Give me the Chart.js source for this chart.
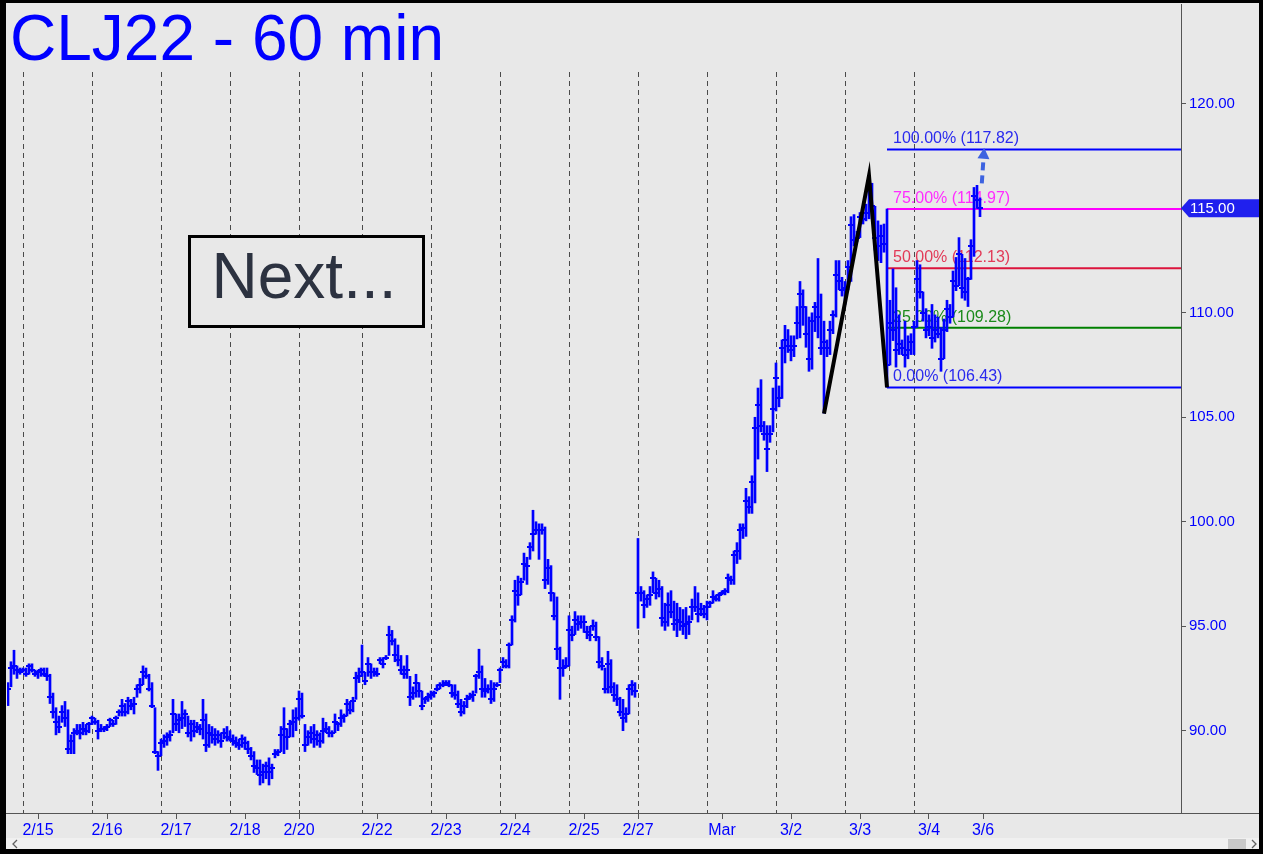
<!DOCTYPE html>
<html><head><meta charset="utf-8">
<script src="https://cdn.jsdelivr.net/npm/chart.js@4.4.1/dist/chart.umd.min.js"></script>
<style>html,body{margin:0;padding:0;background:#e8e8e8;overflow:hidden}#wrap{position:relative;width:1263px;height:854px}</style>
</head><body><div id="wrap"><canvas id="c"></canvas></div>
<script>
// ---- data (hourly bars) ----
const lows = [
91.2,92.1,92.7,92.5,92.7,92.8,92.6,92.7,92.8,92.6,
92.5,92.6,92.6,92.4,91.3,90.6,89.8,89.9,90.4,90.2,
88.9,88.9,88.9,89.8,89.6,89.8,89.8,89.9,90.3,90.3,
89.6,89.95,89.95,90.0,90.2,90.2,90.3,90.7,90.7,90.7,
90.8,91.0,90.8,91.6,91.8,92.2,92.5,91.9,91.1,88.9,
88.1,88.8,89.2,89.3,89.5,89.9,90.0,89.9,90.1,90.2,
89.7,89.5,89.7,89.9,89.8,89.6,89.0,89.2,89.4,89.3,
89.4,89.2,89.6,89.5,89.5,89.3,89.2,89.1,89.2,89.1,
88.9,88.6,88.0,87.9,87.4,87.5,87.7,87.4,87.7,88.7,
88.8,89.0,88.9,89.1,89.7,89.7,90.0,90.5,90.6,89.0,
89.3,89.4,89.2,89.3,89.2,89.4,89.9,89.7,89.7,89.9,
90.0,90.2,90.4,90.7,90.8,90.9,91.5,92.3,92.6,92.2,
92.6,92.5,92.6,92.6,93.2,93.0,93.4,93.6,94.1,93.3,
93.1,92.7,92.5,92.5,91.2,91.5,91.6,91.6,91.0,91.3,
91.4,91.5,91.6,91.9,92.0,92.1,92.2,92.1,91.6,91.5,
91.1,90.7,90.8,91.1,91.5,91.4,91.8,92.5,91.6,91.6,
91.8,91.3,91.4,92.1,92.3,93.0,93.0,93.0,94.1,95.2,
96.0,96.5,97.2,97.0,98.2,98.6,99.4,98.2,99.4,96.8,
97.0,96.2,95.3,93.4,91.5,92.6,93.0,93.1,94.3,94.6,
94.8,94.9,94.7,94.4,94.3,94.8,94.3,93.0,92.9,91.8,
91.8,91.8,91.4,91.2,90.7,90.0,90.4,90.8,91.7,91.6,
94.9,96.2,95.4,95.9,96.0,96.6,96.3,96.4,95.0,94.8,
95.0,95.4,94.8,94.5,94.8,94.6,94.4,94.6,95.3,95.7,
95.2,95.5,95.4,95.3,95.9,96.1,96.2,96.2,96.5,96.5,
96.6,97.0,97.0,98.0,98.2,99.2,99.3,100.4,100.4,100.9,
103.0,104.3,103.9,102.4,103.8,104.3,105.3,105.5,105.9,107.6,
108.1,107.7,107.9,108.75,108.8,109.4,108.35,107.2,107.3,109.1,
108.8,108.0,105.2,107.9,108.0,109.0,109.8,111.1,110.8,110.4,
111.1,111.5,113.2,113.4,113.6,114.25,114.4,114.5,115.0,113.0,
112.5,112.4,112.9,106.43,107.5,108.67,107.4,108.0,108.0,107.4,
107.8,108.0,108.0,109.3,110.7,109.6,108.8,108.9,108.3,108.6,
108.8,107.2,107.8,109.1,109.5,109.8,111.06,111.3,110.7,110.6,
110.3,111.6,112.7,115.0,114.6];
const highs = [
92.3,93.3,93.85,93.1,93.0,93.0,93.0,93.2,93.2,92.9,
92.9,93.0,93.0,93.0,92.7,91.8,91.1,90.7,91.2,91.4,
91.0,89.8,90.1,90.3,90.3,90.4,90.3,90.4,90.7,90.6,
90.5,90.3,90.2,90.3,90.6,90.5,90.7,91.0,91.5,91.3,
91.6,91.5,91.6,92.2,92.5,93.1,93.0,92.7,92.3,91.1,
89.0,89.6,89.8,89.9,90.0,91.5,90.8,90.8,91.4,91.0,
90.7,90.5,90.5,90.4,90.3,91.5,90.8,90.3,90.2,90.1,
90.0,89.9,90.1,90.2,90.0,89.8,89.7,89.6,89.8,89.7,
89.5,89.2,89.0,88.6,88.6,88.4,88.5,88.7,88.4,89.1,
89.1,90.2,91.1,90.1,90.5,91.0,91.1,91.9,91.8,90.3,
90.0,90.2,90.3,90.0,89.9,90.6,90.4,90.2,90.0,90.8,
90.4,91.0,90.8,91.5,91.4,91.6,92.8,93.0,94.1,92.8,
93.5,93.2,93.0,93.0,93.5,93.5,93.6,95.0,94.8,94.4,
94.1,93.6,93.1,93.6,92.6,92.1,92.7,92.3,91.9,91.6,
91.8,91.9,91.9,92.2,92.3,92.4,92.4,92.4,92.2,92.2,
91.9,91.5,91.4,91.7,91.8,91.9,92.7,93.9,93.1,92.5,
92.2,92.4,92.3,92.3,93.0,93.5,93.4,94.2,95.5,97.2,
97.4,97.3,98.5,98.3,99.0,100.55,100.0,99.9,99.9,99.75,
98.2,97.9,96.6,96.4,94.0,93.4,93.5,95.5,95.0,95.7,
95.5,95.5,95.5,95.0,95.0,95.3,95.2,94.5,93.5,93.0,
93.8,93.4,92.3,92.2,91.6,91.5,91.1,92.2,92.4,92.3,
99.2,96.9,96.7,96.5,96.9,97.6,97.3,97.2,96.9,96.1,
96.6,96.7,96.2,96.1,95.9,95.8,95.9,95.5,96.3,96.9,
96.6,96.1,96.0,96.2,96.2,96.7,96.5,96.6,96.7,96.8,
97.5,97.4,98.6,99.0,99.9,99.9,101.6,101.2,102.2,105.0,
106.4,106.8,104.8,104.6,104.6,106.4,107.6,106.5,108.7,109.4,
109.2,108.9,108.9,110.3,111.5,111.1,110.3,109.8,110.0,110.5,
112.6,110.9,109.6,108.7,109.6,110.1,112.5,112.5,111.7,111.5,
112.5,114.6,114.7,113.9,114.8,115.0,115.2,116.56,116.2,115.1,
114.4,114.2,114.25,114.97,110.6,112.1,111.2,109.9,108.7,109.6,
108.9,109.0,109.6,112.5,112.3,111.0,110.2,109.9,110.4,109.9,
109.8,109.3,109.7,110.6,110.4,112.0,112.65,113.6,112.8,112.6,
111.7,113.5,116.0,116.1,115.5];
const closes = [
92.0,93.0,93.1,92.9,92.8,92.9,92.7,93.1,92.9,92.7,
92.8,92.9,92.7,92.6,91.6,90.9,90.4,90.2,90.9,90.6,
89.1,89.5,89.9,90.0,89.9,90.1,90.0,90.3,90.6,90.4,
90.0,90.1,90.1,90.2,90.5,90.3,90.6,90.9,91.2,90.9,
91.4,91.2,91.3,92.0,92.2,92.8,92.6,92.0,91.2,89.0,
88.8,89.4,89.5,89.7,89.8,90.8,90.3,90.5,90.6,90.8,
89.9,90.3,90.0,90.2,90.1,90.5,89.3,89.9,89.8,89.6,
89.8,89.5,89.9,89.7,89.6,89.5,89.4,89.3,89.6,89.4,
89.1,88.8,88.3,88.2,87.9,88.0,88.3,88.0,88.2,88.9,
89.0,89.8,90.1,89.7,90.3,90.4,90.6,91.5,90.7,89.3,
89.7,89.9,89.6,89.8,89.5,90.0,90.1,89.9,89.9,90.4,
90.3,90.6,90.7,91.3,91.0,91.4,92.5,92.6,92.8,92.4,
93.2,92.8,92.8,92.7,93.4,93.2,93.5,94.6,94.3,93.6,
93.4,92.9,92.7,92.9,91.6,91.8,92.3,91.9,91.2,91.5,
91.6,91.7,91.8,92.0,92.2,92.2,92.3,92.2,91.8,91.7,
91.3,90.9,91.2,91.5,91.6,91.7,92.6,92.8,92.0,91.9,
92.0,91.5,92.0,92.2,92.9,93.3,93.1,94.1,95.3,96.7,
96.5,97.1,98.0,97.9,98.8,99.4,99.6,99.6,99.6,97.2,
97.8,96.6,95.5,93.9,93.0,93.0,93.1,94.8,94.6,95.3,
95.1,95.2,95.2,94.7,94.6,95.0,94.5,93.3,93.1,92.0,
93.2,92.1,91.7,91.5,90.9,90.6,90.8,92.0,92.2,91.9,
96.6,96.6,96.0,96.3,96.5,97.3,96.6,96.8,95.4,95.2,
96.0,95.7,95.1,95.3,95.2,95.0,95.1,95.2,95.9,95.9,
95.6,95.8,95.6,95.9,96.1,96.4,96.3,96.5,96.6,96.7,
97.3,97.2,98.4,98.6,99.6,99.7,101.0,100.7,101.9,104.5,
105.6,104.6,104.2,103.5,104.2,105.4,106.9,105.9,108.3,108.7,
108.4,108.2,108.4,109.5,110.9,110.3,109.0,107.8,109.6,110.3,
109.8,108.3,108.6,108.3,109.2,109.9,111.8,111.5,111.1,111.2,
112.2,114.2,113.5,113.6,114.6,114.5,114.8,115.9,115.1,113.6,
113.2,113.7,113.3,107.5,109.5,109.2,108.2,108.5,108.3,108.0,
108.2,108.6,109.3,111.6,111.0,110.0,109.2,109.3,108.8,109.2,
109.0,107.8,109.2,110.2,109.8,111.5,111.3,112.8,111.2,111.0,
111.6,113.2,115.6,115.4,115.0];

const xTickIdx    = [10, 33, 56, 79, 97, 123, 146, 169, 192, 210, 238, 261, 284, 307, 325];
const xTickLabels = ['2/15','2/16','2/17','2/18','2/20','2/22','2/23','2/24','2/25','2/27','Mar','3/2','3/3','3/4','3/6'];
const daySeparators = [5, 28, 51, 74, 97, 118, 141, 164, 187, 210, 233, 256, 279, 302];
const yTicks = [90, 95, 100, 105, 110, 115, 120];

const patternX = [272, 287, 293];
const patternY = [105.18, 116.56, 106.43];

const fibPct  = ['100.00%', '75.00%', '50.00%', '25.00%', '0.00%'];
const fibVals = [117.82, 114.97, 112.13, 109.28, 106.43];
const fibStart = 293;

const arrowFrom = [324.6, 116.2];
const arrowTo   = [325.4, 117.9];

// ---- styling ----
const BG = '#e8e8e8';
const FONT = '"Liberation Sans", Arial, Helvetica, sans-serif';
const fibLineColors = ['#0000ff', '#ff00ff', '#dc143c', '#008000'];
const fibColorIdx = [0, 1, 2, 3, 0];
const fibTextColors = ['#2a2aee', '#ff2cff', '#e23a58', '#1a8a1a', '#2a2aee'];
const X_MAX = 391;

Chart.defaults.font.family = FONT;

const tickImg = document.createElement('canvas');
tickImg.width = 6; tickImg.height = 2;
(function(){ const t = tickImg.getContext('2d'); t.fillStyle = '#0000ff'; t.fillRect(0, 0, 6, 2); })();

const datasets = [];
datasets.push({
  type: 'line', order: 0,
  data: patternX.map((x, k) => ({x, y: patternY[k]})),
  borderColor: '#000', borderWidth: 4, pointRadius: 0, tension: 0
});
datasets.push({
  type: 'scatter', order: 1,
  data: closes.map((c, i) => ({x: i, y: c})),
  pointStyle: tickImg, pointRadius: 2, pointBackgroundColor: '#0000ff', pointBorderWidth: 0
});
datasets.push({
  type: 'bar', order: 2,
  data: lows.map((l, i) => ({x: i, y: [l, highs[i]]})),
  backgroundColor: '#0000ff', borderWidth: 0, barThickness: 2, grouped: false, borderSkipped: false
});
fibVals.forEach((v, k) => {
  datasets.push({
    type: 'line', order: 3,
    data: [{x: fibStart, y: v}, {x: X_MAX, y: v}],
    borderColor: fibLineColors[fibColorIdx[k]], borderWidth: 2, pointRadius: 0
  });
});

const deco = {
  id: 'deco',
  beforeDraw(c) {
    const ctx = c.ctx; ctx.save(); ctx.fillStyle = BG; ctx.fillRect(0, 0, c.width, c.height); ctx.restore();
  },
  beforeDatasetsDraw(c) {
    const {ctx, chartArea: a, scales: {x, y}} = c;
    ctx.save();
    ctx.strokeStyle = '#4a4a4a'; ctx.lineWidth = 1; ctx.setLineDash([5, 4]);
    daySeparators.forEach(d => {
      const px = Math.round(x.getPixelForValue(d)) + 0.5;
      ctx.beginPath(); ctx.moveTo(px, 72); ctx.lineTo(px, a.bottom); ctx.stroke();
    });
    ctx.setLineDash([]);
    ctx.font = '16px ' + FONT; ctx.textBaseline = 'alphabetic'; ctx.textAlign = 'left';
    fibVals.forEach((v, k) => {
      ctx.fillStyle = fibTextColors[k];
      ctx.fillText(fibPct[k] + ' (' + v.toFixed(2) + ')', x.getPixelForValue(fibStart) + 6, y.getPixelForValue(v) - 6);
    });
    ctx.restore();
  },
  afterDatasetsDraw(c) {
    const {ctx, scales: {x, y}} = c;
    const x0 = x.getPixelForValue(arrowFrom[0]), y0 = y.getPixelForValue(arrowFrom[1]);
    const x1 = x.getPixelForValue(arrowTo[0]), y1 = y.getPixelForValue(arrowTo[1]);
    const ang = Math.atan2(y1 - y0, x1 - x0);
    const head = 11, hw = 6;
    const bx = x1 - Math.cos(ang) * head, by = y1 - Math.sin(ang) * head;
    ctx.save();
    ctx.strokeStyle = '#3d63e0'; ctx.fillStyle = '#3d63e0'; ctx.lineWidth = 4; ctx.setLineDash([8, 5]);
    ctx.beginPath(); ctx.moveTo(x0, y0); ctx.lineTo(bx, by); ctx.stroke();
    ctx.setLineDash([]);
    ctx.beginPath();
    ctx.moveTo(x1, y1);
    ctx.lineTo(bx + Math.sin(ang) * hw, by - Math.cos(ang) * hw);
    ctx.lineTo(bx - Math.sin(ang) * hw, by + Math.cos(ang) * hw);
    ctx.closePath(); ctx.fill();
    ctx.restore();
  },
  afterDraw(c) {
    const {ctx, chartArea: a, scales: {y}} = c;
    const W = c.width, H = c.height;
    ctx.save();
    // extended x axis line
    ctx.strokeStyle = '#555'; ctx.lineWidth = 1;
    ctx.beginPath(); ctx.moveTo(0, a.bottom + 0.5); ctx.lineTo(W, a.bottom + 0.5); ctx.stroke();
    // title
    ctx.fillStyle = '#0000ff'; ctx.font = '64px ' + FONT; ctx.textBaseline = 'alphabetic'; ctx.textAlign = 'left';
    ctx.fillText('CLJ22 - 60 min', 10, 60);
    // Next box
    ctx.fillStyle = BG; ctx.fillRect(189, 237, 234, 89);
    ctx.strokeStyle = '#000'; ctx.lineWidth = 3; ctx.strokeRect(189.5, 236.5, 234, 90);
    ctx.fillStyle = '#2c3240'; ctx.font = '64px ' + FONT; ctx.textAlign = 'center'; ctx.textBaseline = 'middle';
    ctx.fillText('Next...', 304, 280);
    // price tag
    const last = closes[closes.length - 1];
    const py = y.getPixelForValue(last);
    ctx.fillStyle = '#2020ee';
    ctx.beginPath();
    ctx.moveTo(a.right, py); ctx.lineTo(a.right + 8, py - 9); ctx.lineTo(W, py - 9);
    ctx.lineTo(W, py + 9); ctx.lineTo(a.right + 8, py + 9); ctx.closePath(); ctx.fill();
    ctx.fillStyle = '#fff'; ctx.font = '15px ' + FONT; ctx.textAlign = 'left'; ctx.textBaseline = 'middle';
    ctx.fillText(last.toFixed(2), a.right + 9, py + 1);
    // scrollbar
    ctx.fillStyle = '#f0f0f0'; ctx.fillRect(6, 838, W - 10, 11);
    ctx.fillStyle = '#c9c9c9'; ctx.fillRect(1228, 839, 18, 10);
    ctx.strokeStyle = '#606060'; ctx.lineWidth = 1.3;
    ctx.beginPath(); ctx.moveTo(17, 840); ctx.lineTo(13, 844); ctx.lineTo(17, 848); ctx.stroke();
    ctx.beginPath(); ctx.moveTo(1252, 840); ctx.lineTo(1256, 844); ctx.lineTo(1252, 848); ctx.stroke();
    // frame
    ctx.fillStyle = '#000';
    ctx.fillRect(0, 0, W, 3);
    ctx.fillRect(0, 0, 6, H);
    ctx.fillRect(W - 4, 0, 4, H);
    ctx.fillRect(0, 849, W, H - 849);
    ctx.restore();
  }
};

new Chart(document.getElementById('c'), {
  type: 'bar',
  data: { datasets },
  options: {
    responsive: true, maintainAspectRatio: false, animation: false, devicePixelRatio: 1,
    events: [],
    layout: { padding: { left: 7, top: 3, right: 0, bottom: 0 } },
    plugins: { legend: { display: false }, tooltip: { enabled: false } },
    scales: {
      x: {
        type: 'linear', min: -1/3, max: X_MAX, offset: false, position: 'bottom',
        afterBuildTicks: s => { s.ticks = xTickIdx.map(v => ({value: v})); },
        afterFit: s => { s.height = 41; s.paddingLeft = 0; s.paddingRight = 0; s.paddingTop = 0; s.paddingBottom = 0; },
        ticks: { autoSkip: false, maxRotation: 0, minRotation: 0, color: '#0000ff', font: {size: 16}, padding: 2,
                 callback: (v, i) => xTickLabels[i] },
        grid: { offset: false, drawOnChartArea: false, drawTicks: true, tickLength: 6, color: '#555' },
        border: { display: true, color: '#555', width: 1 }
      },
      y: {
        type: 'linear', position: 'right', min: 86.06, max: 124.78,
        afterBuildTicks: s => { s.ticks = yTicks.map(v => ({value: v})); },
        afterFit: s => { s.width = 82; s.paddingTop = 0; s.paddingBottom = 0; s.paddingLeft = 0; s.paddingRight = 0; },
        ticks: { color: '#0000ff', font: {size: 15}, padding: 3, callback: v => Number(v).toFixed(2) },
        grid: { offset: false, drawOnChartArea: false, drawTicks: true, tickLength: 5, color: '#555' },
        border: { display: true, color: '#555', width: 1 }
      }
    }
  },
  plugins: [deco]
});
</script>
</body></html>
